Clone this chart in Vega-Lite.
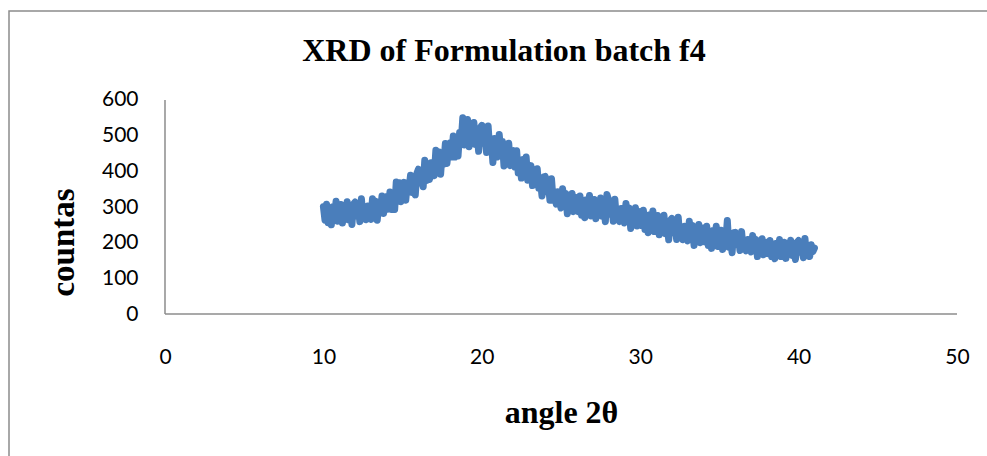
{
"$schema": "https://vega.github.io/schema/vega-lite/v6.json",
"width": 982, "height": 450,
"autosize": "none",
"padding": {"left": 9, "top": 11, "right": -4, "bottom": -5},
"background": "white",
"config": {"view": {"stroke": "#8c8c8c", "strokeWidth": 1.5}},
"title": {"text": "XRD of Formulation batch f4", "font": "Liberation Serif", "fontSize": 32, "fontWeight": "bold", "color": "#000000", "anchor": "middle", "orient": "top", "baseline": "middle", "offset": 0, "dy": 72, "dx": 4},
"data": {"values": [
{"angle":10.0,"counts":301},{"angle":10.1,"counts":263},{"angle":10.2,"counts":308},{"angle":10.3,"counts":256},{"angle":10.4,"counts":292},{"angle":10.5,"counts":250},{"angle":10.6,"counts":301},{"angle":10.7,"counts":274},{"angle":10.8,"counts":316},{"angle":10.9,"counts":260},
{"angle":11.0,"counts":268},{"angle":11.1,"counts":307},{"angle":11.2,"counts":255},{"angle":11.3,"counts":300},{"angle":11.4,"counts":278},{"angle":11.5,"counts":315},{"angle":11.6,"counts":264},{"angle":11.7,"counts":293},{"angle":11.8,"counts":251},{"angle":11.9,"counts":308},
{"angle":12.0,"counts":314},{"angle":12.1,"counts":275},{"angle":12.2,"counts":304},{"angle":12.3,"counts":259},{"angle":12.4,"counts":323},{"angle":12.5,"counts":267},{"angle":12.6,"counts":295},{"angle":12.7,"counts":264},{"angle":12.8,"counts":303},{"angle":12.9,"counts":282},
{"angle":13.0,"counts":265},{"angle":13.1,"counts":323},{"angle":13.2,"counts":286},{"angle":13.3,"counts":316},{"angle":13.4,"counts":263},{"angle":13.5,"counts":313},{"angle":13.6,"counts":284},{"angle":13.7,"counts":331},{"angle":13.8,"counts":282},{"angle":13.9,"counts":317},
{"angle":14.0,"counts":329},{"angle":14.1,"counts":294},{"angle":14.2,"counts":342},{"angle":14.3,"counts":293},{"angle":14.4,"counts":332},{"angle":14.5,"counts":293},{"angle":14.6,"counts":370},{"angle":14.7,"counts":323},{"angle":14.8,"counts":368},{"angle":14.9,"counts":315},
{"angle":15.0,"counts":326},{"angle":15.1,"counts":369},{"angle":15.2,"counts":319},{"angle":15.3,"counts":368},{"angle":15.4,"counts":348},{"angle":15.5,"counts":389},{"angle":15.6,"counts":341},{"angle":15.7,"counts":373},{"angle":15.8,"counts":334},{"angle":15.9,"counts":394},
{"angle":16.0,"counts":406},{"angle":16.1,"counts":367},{"angle":16.2,"counts":403},{"angle":16.3,"counts":357},{"angle":16.4,"counts":431},{"angle":16.5,"counts":374},{"angle":16.6,"counts":409},{"angle":16.7,"counts":377},{"angle":16.8,"counts":424},{"angle":16.9,"counts":405},
{"angle":17.0,"counts":388},{"angle":17.1,"counts":459},{"angle":17.2,"counts":415},{"angle":17.3,"counts":454},{"angle":17.4,"counts":392},{"angle":17.5,"counts":453},{"angle":17.6,"counts":420},{"angle":17.7,"counts":478},{"angle":17.8,"counts":422},{"angle":17.9,"counts":464},
{"angle":18.0,"counts":480},{"angle":18.1,"counts":440},{"angle":18.2,"counts":499},{"angle":18.3,"counts":440},{"angle":18.4,"counts":488},{"angle":18.5,"counts":443},{"angle":18.6,"counts":509},{"angle":18.7,"counts":482},{"angle":18.8,"counts":550},{"angle":18.9,"counts":474},
{"angle":19.0,"counts":488},{"angle":19.1,"counts":545},{"angle":19.2,"counts":469},{"angle":19.3,"counts":522},{"angle":19.4,"counts":494},{"angle":19.5,"counts":537},{"angle":19.6,"counts":475},{"angle":19.7,"counts":508},{"angle":19.8,"counts":456},{"angle":19.9,"counts":522},
{"angle":20.0,"counts":529},{"angle":20.1,"counts":479},{"angle":20.2,"counts":510},{"angle":20.3,"counts":453},{"angle":20.4,"counts":527},{"angle":20.5,"counts":457},{"angle":20.6,"counts":488},{"angle":20.7,"counts":425},{"angle":20.8,"counts":492},{"angle":20.9,"counts":462},
{"angle":21.0,"counts":440},{"angle":21.1,"counts":503},{"angle":21.2,"counts":453},{"angle":21.3,"counts":484},{"angle":21.4,"counts":415},{"angle":21.5,"counts":469},{"angle":21.6,"counts":429},{"angle":21.7,"counts":479},{"angle":21.8,"counts":416},{"angle":21.9,"counts":451},
{"angle":22.0,"counts":458},{"angle":22.1,"counts":412},{"angle":22.2,"counts":458},{"angle":22.3,"counts":395},{"angle":22.4,"counts":431},{"angle":22.5,"counts":381},{"angle":22.6,"counts":433},{"angle":22.7,"counts":399},{"angle":22.8,"counts":440},{"angle":22.9,"counts":375},
{"angle":23.0,"counts":381},{"angle":23.1,"counts":416},{"angle":23.2,"counts":360},{"angle":23.3,"counts":401},{"angle":23.4,"counts":374},{"angle":23.5,"counts":407},{"angle":23.6,"counts":353},{"angle":23.7,"counts":377},{"angle":23.8,"counts":331},{"angle":23.9,"counts":384},
{"angle":24.0,"counts":386},{"angle":24.1,"counts":343},{"angle":24.2,"counts":368},{"angle":24.3,"counts":319},{"angle":24.4,"counts":379},{"angle":24.5,"counts":319},{"angle":24.6,"counts":343},{"angle":24.7,"counts":308},{"angle":24.8,"counts":343},{"angle":24.9,"counts":318},
{"angle":25.0,"counts":297},{"angle":25.1,"counts":351},{"angle":25.2,"counts":311},{"angle":25.3,"counts":338},{"angle":25.4,"counts":281},{"angle":25.5,"counts":328},{"angle":25.6,"counts":295},{"angle":25.7,"counts":338},{"angle":25.8,"counts":287},{"angle":25.9,"counts":318},
{"angle":26.0,"counts":326},{"angle":26.1,"counts":287},{"angle":26.2,"counts":331},{"angle":26.3,"counts":277},{"angle":26.4,"counts":312},{"angle":26.5,"counts":270},{"angle":26.6,"counts":320},{"angle":26.7,"counts":292},{"angle":26.8,"counts":332},{"angle":26.9,"counts":275},
{"angle":27.0,"counts":282},{"angle":27.1,"counts":321},{"angle":27.2,"counts":267},{"angle":27.3,"counts":312},{"angle":27.4,"counts":288},{"angle":27.5,"counts":325},{"angle":27.6,"counts":274},{"angle":27.7,"counts":301},{"angle":27.8,"counts":259},{"angle":27.9,"counts":335},
{"angle":28.0,"counts":320},{"angle":28.1,"counts":280},{"angle":28.2,"counts":307},{"angle":28.3,"counts":260},{"angle":28.4,"counts":322},{"angle":28.5,"counts":265},{"angle":28.6,"counts":292},{"angle":28.7,"counts":259},{"angle":28.8,"counts":296},{"angle":28.9,"counts":273},
{"angle":29.0,"counts":255},{"angle":29.1,"counts":310},{"angle":29.2,"counts":269},{"angle":29.3,"counts":297},{"angle":29.4,"counts":240},{"angle":29.5,"counts":287},{"angle":29.6,"counts":255},{"angle":29.7,"counts":298},{"angle":29.8,"counts":247},{"angle":29.9,"counts":278},
{"angle":30.0,"counts":287},{"angle":30.1,"counts":248},{"angle":30.2,"counts":291},{"angle":30.3,"counts":237},{"angle":30.4,"counts":271},{"angle":30.5,"counts":228},{"angle":30.6,"counts":278},{"angle":30.7,"counts":249},{"angle":30.8,"counts":289},{"angle":30.9,"counts":231},
{"angle":31.0,"counts":238},{"angle":31.1,"counts":276},{"angle":31.2,"counts":222},{"angle":31.3,"counts":265},{"angle":31.4,"counts":241},{"angle":31.5,"counts":277},{"angle":31.6,"counts":225},{"angle":31.7,"counts":252},{"angle":31.8,"counts":208},{"angle":31.9,"counts":263},
{"angle":32.0,"counts":268},{"angle":32.1,"counts":228},{"angle":32.2,"counts":255},{"angle":32.3,"counts":209},{"angle":32.4,"counts":271},{"angle":32.5,"counts":214},{"angle":32.6,"counts":241},{"angle":32.7,"counts":208},{"angle":32.8,"counts":246},{"angle":32.9,"counts":223},
{"angle":33.0,"counts":205},{"angle":33.1,"counts":260},{"angle":33.2,"counts":220},{"angle":33.3,"counts":248},{"angle":33.4,"counts":192},{"angle":33.5,"counts":239},{"angle":33.6,"counts":207},{"angle":33.7,"counts":251},{"angle":33.8,"counts":200},{"angle":33.9,"counts":232},
{"angle":34.0,"counts":241},{"angle":34.1,"counts":202},{"angle":34.2,"counts":246},{"angle":34.3,"counts":192},{"angle":34.4,"counts":227},{"angle":34.5,"counts":184},{"angle":34.6,"counts":234},{"angle":34.7,"counts":206},{"angle":34.8,"counts":246},{"angle":34.9,"counts":189},
{"angle":35.0,"counts":196},{"angle":35.1,"counts":235},{"angle":35.2,"counts":181},{"angle":35.3,"counts":226},{"angle":35.4,"counts":202},{"angle":35.5,"counts":262},{"angle":35.6,"counts":187},{"angle":35.7,"counts":215},{"angle":35.8,"counts":172},{"angle":35.9,"counts":228},
{"angle":36.0,"counts":229},{"angle":36.1,"counts":195},{"angle":36.2,"counts":217},{"angle":36.3,"counts":178},{"angle":36.4,"counts":231},{"angle":36.5,"counts":182},{"angle":36.6,"counts":205},{"angle":36.7,"counts":177},{"angle":36.8,"counts":209},{"angle":36.9,"counts":189},
{"angle":37.0,"counts":174},{"angle":37.1,"counts":220},{"angle":37.2,"counts":186},{"angle":37.3,"counts":209},{"angle":37.4,"counts":161},{"angle":37.5,"counts":201},{"angle":37.6,"counts":174},{"angle":37.7,"counts":211},{"angle":37.8,"counts":166},{"angle":37.9,"counts":193},
{"angle":38.0,"counts":201},{"angle":38.1,"counts":169},{"angle":38.2,"counts":206},{"angle":38.3,"counts":161},{"angle":38.4,"counts":191},{"angle":38.5,"counts":155},{"angle":38.6,"counts":198},{"angle":38.7,"counts":175},{"angle":38.8,"counts":209},{"angle":38.9,"counts":161},
{"angle":39.0,"counts":168},{"angle":39.1,"counts":201},{"angle":39.2,"counts":156},{"angle":39.3,"counts":195},{"angle":39.4,"counts":176},{"angle":39.5,"counts":207},{"angle":39.6,"counts":164},{"angle":39.7,"counts":188},{"angle":39.8,"counts":153},{"angle":39.9,"counts":201},
{"angle":40.0,"counts":206},{"angle":40.1,"counts":173},{"angle":40.2,"counts":196},{"angle":40.3,"counts":158},{"angle":40.4,"counts":212},{"angle":40.5,"counts":164},{"angle":40.6,"counts":188},{"angle":40.7,"counts":161},{"angle":40.8,"counts":194},{"angle":40.9,"counts":175},
{"angle":41.0,"counts":185}
]},
"layer": [
{
"mark": {"type": "line", "color": "#4a7ebb", "strokeWidth": 7, "strokeCap": "round", "strokeJoin": "round"},
"encoding": {
"x": {"field": "angle", "type": "quantitative", "scale": {"domain": [-9.848, 52.146], "nice": false, "zero": false},
 "axis": {"orient": "bottom", "offset": -147, "values": [0,10,20,30,40,50], "domain": false, "ticks": false, "tickSize": 0, "grid": false, "labelFlush": false, "labelOverlap": false, "labelFont": "Lato", "labelFontSize": 21, "labelColor": "#000000", "labelPadding": 43, "labelBaseline": "middle", "title": "angle 2θ", "titleFont": "Liberation Serif", "titleFontSize": 32, "titleFontWeight": "bold", "titleColor": "#000000", "titleX": 552, "titleY": 98, "titleBaseline": "middle", "titleAlign": "center"}},
"y": {"field": "counts", "type": "quantitative", "scale": {"domain": [-412.1, 849.5], "nice": false, "zero": false},
 "axis": {"orient": "left", "offset": -156, "values": [0,100,200,300,400,500,600], "domain": false, "ticks": false, "tickSize": 0, "grid": false, "labelFlush": false, "labelOverlap": false, "labelFont": "Lato", "labelFontSize": 21, "labelColor": "#000000", "labelPadding": 27, "labelBaseline": "middle", "title": "countas", "titleFont": "Liberation Serif", "titleFontSize": 33, "titleFontWeight": "bold", "titleColor": "#000000", "titleX": -102, "titleY": 231, "titleAngle": -90, "titleBaseline": "middle", "titleAlign": "center"}}
}
},
{
"data": {"values": [{}]},
"mark": {"type": "rule", "color": "#8c8c8c", "strokeWidth": 1.5},
"encoding": {
"x": {"datum": 0, "type": "quantitative", "scale": {"domain": [-9.848, 52.146], "nice": false, "zero": false}},
"x2": {"datum": 50},
"y": {"datum": 0, "type": "quantitative", "scale": {"domain": [-412.1, 849.5], "nice": false, "zero": false}}
}
},
{
"data": {"values": [{}]},
"mark": {"type": "rule", "color": "#8c8c8c", "strokeWidth": 1.5},
"encoding": {
"x": {"datum": 0, "type": "quantitative", "scale": {"domain": [-9.848, 52.146], "nice": false, "zero": false}},
"y": {"datum": 0, "type": "quantitative", "scale": {"domain": [-412.1, 849.5], "nice": false, "zero": false}},
"y2": {"datum": 600}
}
}
]
}
